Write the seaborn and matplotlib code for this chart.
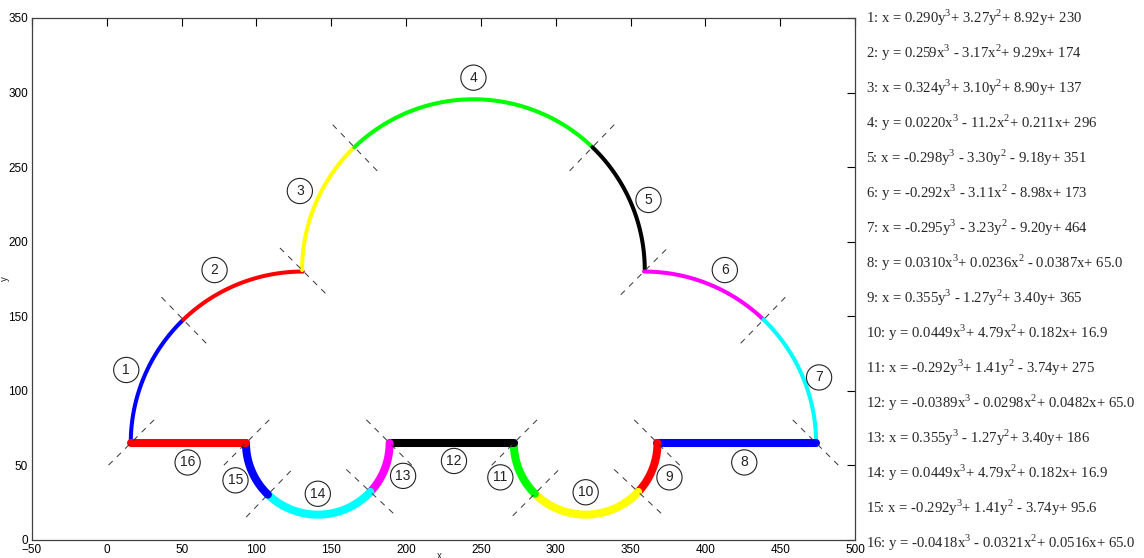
import numpy as np
import pandas as pd
import matplotlib
matplotlib.use("Agg")
import matplotlib.pyplot as plt
import seaborn as sns

# ---- data ----
seg_ids = list(range(1, 17))
seg_colors = ["#0000ff", "#ff0000", "#ffff00", "#00ff00", "#000000", "#ff00ff", "#00ffff",
              "#0000ff", "#ff0000", "#ffff00", "#00ff00", "#000000", "#ff00ff", "#00ffff",
              "#0000ff", "#ff0000"]
seg_kind = ["arc"] * 7 + ["line", "arc", "arc", "arc", "line", "arc", "arc", "arc", "line"]

# arc segments: circle centre, radius, start / end angle (deg)
arc_cx = [131, 131, 245, 245, 245, 359, 359, None, 320, 320, 320, None, 141, 141, 141, None]
arc_cy = [65, 65, 181, 181, 181, 65, 65, None, 65, 65, 65, None, 65, 65, 65, None]
arc_r = [115, 115, 114.5, 114.5, 114.5, 115, 115, None, 48, 48, 48, None, 48, 48, 48, None]
arc_t0 = [180, 134, 180, 134, 46, 90, 46, None, 0, -43, -135, None, 0, -43, -134, None]
arc_t1 = [134, 90, 134, 46, 0, 46, 0, None, -43, -135, -180, None, -43, -134, -180, None]

# straight segments (horizontal)
line_x0 = {8: 474, 12: 272, 16: 93}
line_x1 = {8: 368, 12: 189, 16: 16}
line_y = 65

# label positions (circled numbers)
label_x = [13, 72, 129, 245, 362, 413, 476, 426, 376, 320, 263, 232, 198, 141, 86, 54]
label_y = [114, 181, 234, 310, 228, 181, 109, 52, 42, 32, 42, 53, 43, 31, 40, 52]

# fitted cubic equations shown at the right
eq_var = ["x", "y", "x", "y", "x", "y", "x", "y", "x", "y", "x", "y", "x", "y", "x", "y"]
eq_c3 = ["0.290", "0.259", "0.324", "0.0220", "-0.298", "-0.292", "-0.295", "0.0310",
         "0.355", "0.0449", "-0.292", "-0.0389", "0.355", "0.0449", "-0.292", "-0.0418"]
eq_c2 = ["3.27", "-3.17", "3.10", "-11.2", "-3.30", "-3.11", "-3.23", "0.0236",
         "-1.27", "4.79", "1.41", "-0.0298", "-1.27", "4.79", "1.41", "-0.0321"]
eq_c1 = ["8.92", "9.29", "8.90", "0.211", "-9.18", "-8.98", "-9.20", "-0.0387",
         "3.40", "0.182", "-3.74", "0.0482", "3.40", "0.182", "-3.74", "0.0516"]
eq_c0 = ["230", "174", "137", "296", "351", "173", "464", "65.0",
         "365", "16.9", "275", "65.0", "186", "16.9", "95.6", "65.0"]


def segment_points(i):
    if seg_kind[i] == "arc":
        t = np.radians(np.linspace(arc_t0[i], arc_t1[i], 120))
        return arc_cx[i] + arc_r[i] * np.cos(t), arc_cy[i] + arc_r[i] * np.sin(t)
    sid = seg_ids[i]
    return np.array([line_x0[sid], line_x1[sid]], float), np.array([line_y, line_y], float)


def term(c, power, var):
    sign = " - " if c.startswith("-") else "+ "
    val = c.lstrip("-")
    if power == 0:
        return sign + val
    if power == 1:
        return sign + val + var
    return sign + val + var + r"$^{%d}$" % power


sns.set_theme(style="white")
plt.rcParams["font.family"] = ["Liberation Sans", "DejaVu Sans"]
plt.rcParams["mathtext.fontset"] = "custom"
plt.rcParams["mathtext.rm"] = "Liberation Serif"

fig = plt.figure(figsize=(11.44, 5.58), dpi=100)
ax = fig.add_axes([32 / 1144, 18 / 558, 823 / 1144, 522 / 558])

pts = [segment_points(i) for i in range(16)]

for i in range(16):
    xs, ys = pts[i]
    df = pd.DataFrame({"x": xs, "y": ys})
    lw = 2.9 if i < 7 else 5.8
    sns.lineplot(data=df, x="x", y="y", sort=False, estimator=None, color=seg_colors[i],
                 linewidth=lw, solid_capstyle="round", ax=ax, zorder=2)

# dashed normals at each joint
half = 22
for i in range(16):
    xs, ys = pts[i]
    pxs, pys = pts[i - 1]
    t_out = np.array([xs[1] - xs[0], ys[1] - ys[0]])
    t_in = np.array([pxs[-1] - pxs[-2], pys[-1] - pys[-2]])
    t = t_out / np.hypot(*t_out) + t_in / np.hypot(*t_in)
    t = t / np.hypot(*t)
    n = np.array([-t[1], t[0]])
    x0, y0 = xs[0], ys[0]
    ax.plot([x0 - half * n[0], x0 + half * n[0]], [y0 - half * n[1], y0 + half * n[1]],
            linestyle=(0, (6, 6)), color="#333333", linewidth=0.7, zorder=3)

# circled labels
ax.scatter(label_x, label_y, s=330, facecolors="none", edgecolors="#222222",
           linewidths=0.8, zorder=4)
for sid, lx, ly in zip(seg_ids, label_x, label_y):
    ax.text(lx, ly, str(sid), ha="center", va="center", fontsize=10, color="#222222", zorder=5)

ax.set_xlim(-50, 500)
ax.set_ylim(0, 350)
ax.set_xticks(np.arange(-50, 501, 50))
ax.set_yticks(np.arange(0, 351, 50))
ax.tick_params(direction="in", length=6, width=0.8, top=True, right=True,
               labelsize=8.5, colors="black", pad=3)
for s in ax.spines.values():
    s.set_color("#404040")
    s.set_linewidth(0.9)
ax.set_xlabel("x", fontsize=7)
ax.set_ylabel("y", fontsize=7)
ax.xaxis.set_label_coords(0.495, -0.022)
ax.yaxis.set_label_coords(-0.027, 0.5)

# equation list
for i in range(16):
    dep = "x" if eq_var[i] == "x" else "y"
    ind = "y" if dep == "x" else "x"
    s = f"{seg_ids[i]}: {dep} = {eq_c3[i]}{ind}" + r"$^{3}$"
    s += term(eq_c2[i], 2, ind) + term(eq_c1[i], 1, ind) + term(eq_c0[i], 0, ind)
    fig.text(866 / 1144, 1 - (18 + 35 * i) / 558, s, ha="left", va="center",
             fontsize=10.6, family=["Liberation Serif", "DejaVu Serif"])

fig.savefig("out.png", dpi=100)
